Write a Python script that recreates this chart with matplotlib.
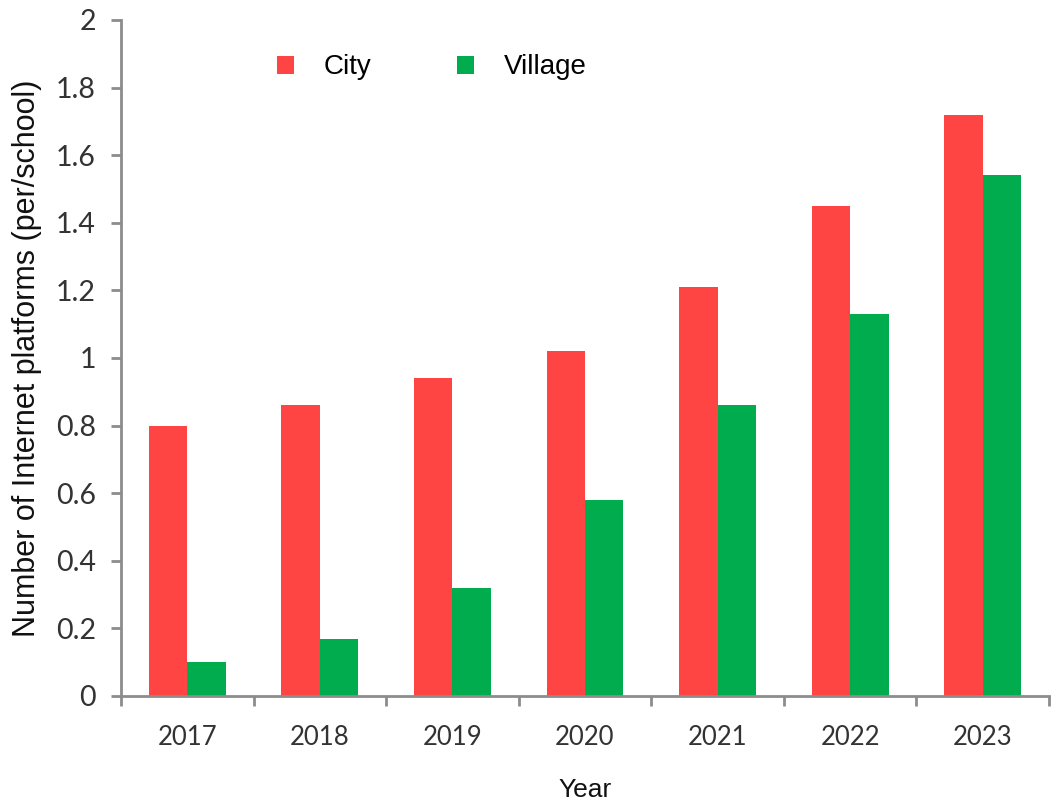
import matplotlib
matplotlib.use("Agg")
import matplotlib.pyplot as plt
import numpy as np
from matplotlib.ticker import FixedLocator, FuncFormatter

years = ["2017", "2018", "2019", "2020", "2021", "2022", "2023"]
city = [0.80, 0.86, 0.94, 1.02, 1.21, 1.45, 1.72]
village = [0.10, 0.17, 0.32, 0.58, 0.86, 1.13, 1.54]
y_ticks = [0, 0.2, 0.4, 0.6, 0.8, 1.0, 1.2, 1.4, 1.6, 1.8, 2.0]

CITY_COLOR = "#FF4444"
VILLAGE_COLOR = "#00AC4E"
AXIS_COLOR = "#8C8C8C"
TEXT_COLOR = "#333333"

fig = plt.figure(figsize=(10.51, 8.0), dpi=100)
ax = fig.add_axes([0.1151, 0.13, 0.883, 0.845])

x = np.arange(len(years))
width = 0.29
ax.bar(x - width / 2, city, width, color=CITY_COLOR, label="City", linewidth=0)
ax.bar(x + width / 2, village, width, color=VILLAGE_COLOR, label="Village", linewidth=0)

ax.set_xlim(-0.5, len(years) - 0.5)
ax.set_ylim(0, 2)

for side in ("top", "right"):
    ax.spines[side].set_visible(False)
for side in ("left", "bottom"):
    ax.spines[side].set_color(AXIS_COLOR)
    ax.spines[side].set_linewidth(2)

ax.yaxis.set_major_locator(FixedLocator(y_ticks))
ax.yaxis.set_major_formatter(FuncFormatter(lambda v, p: f"{v:.1f}".rstrip("0").rstrip(".")))

# category labels centred, tick marks on the boundaries between years
ax.set_xticks(np.arange(len(years) + 1) - 0.5)
ax.set_xticklabels([])
ax.set_xticks(x, minor=True)
ax.set_xticklabels(years, minor=True)
ax.tick_params(axis="x", which="major", length=7, width=2, color=AXIS_COLOR, direction="out")
ax.tick_params(axis="x", which="minor", length=0, pad=21, labelsize=18.5, labelcolor=TEXT_COLOR)
ax.tick_params(axis="y", length=7, width=2, color=AXIS_COLOR, direction="out",
               labelsize=20.5, labelcolor=TEXT_COLOR, pad=11)
for lbl in ax.get_xticklabels(minor=True) + ax.get_yticklabels():
    lbl.set_fontfamily("Lato")

ax.set_xlabel("Year", fontsize=19, family="Liberation Sans", color="#111111", labelpad=20)
ax.set_ylabel("Number of Internet platforms (per/school)", fontsize=22,
              family="Liberation Sans", color="#111111", labelpad=10)

leg = ax.legend(loc="center left", bbox_to_anchor=(0.168, 0.93), ncol=2, frameon=False,
                prop={"family": "Liberation Sans", "size": 20},
                handlelength=0.62, handleheight=0.62, handletextpad=1.05,
                columnspacing=3.1, borderpad=0, borderaxespad=0)

fig.savefig("out.png", dpi=100, facecolor="white")
